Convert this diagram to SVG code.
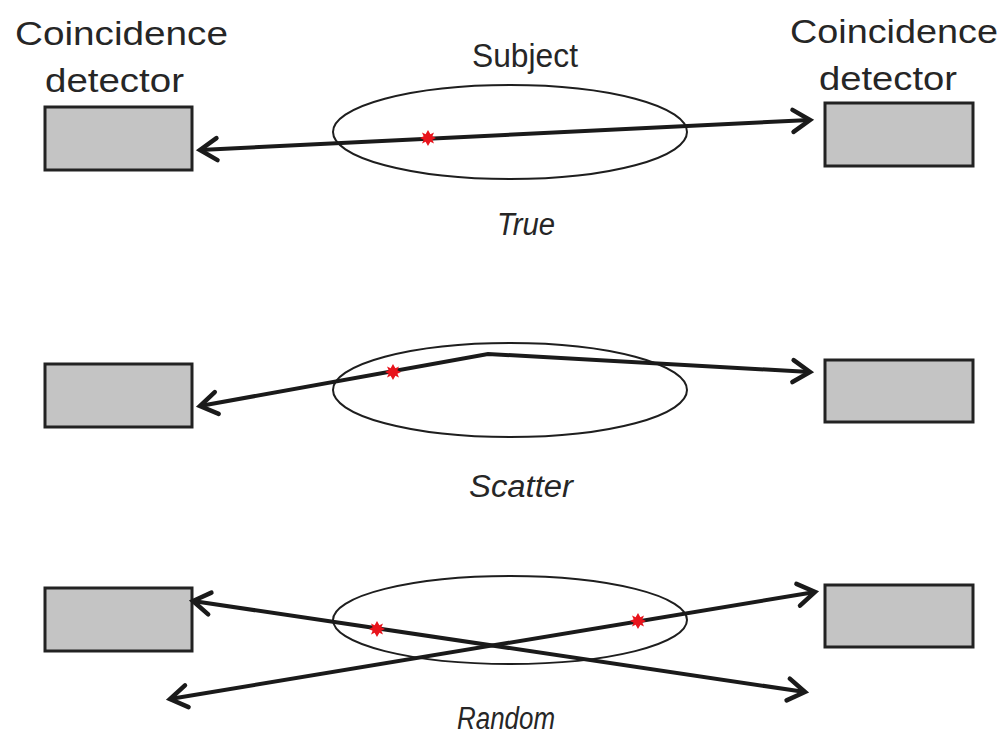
<svg xmlns="http://www.w3.org/2000/svg" width="1002" height="734" viewBox="0 0 1002 734">
<style>
.lbl{font-family:"Liberation Sans",Arial,sans-serif;font-size:34px;fill:#262626}
.cap{font-family:"Liberation Sans",Arial,sans-serif;font-size:31px;font-style:italic;fill:#262626}
.box{fill:#c4c4c4;stroke:#222;stroke-width:3}
.subj{fill:none;stroke:#1e1e1e;stroke-width:2}
.ray{fill:none;stroke:#1a1a1a;stroke-width:4;marker-start:url(#arr);marker-end:url(#arr)}
.hit{fill:#e8141c}
</style>
<defs>
<marker id="arr" viewBox="-24 -16 30 32" refX="0" refY="0" markerWidth="30" markerHeight="32" markerUnits="userSpaceOnUse" orient="auto-start-reverse">
<path d="M-17,-11 L0,0 L-17,11" fill="none" stroke="#1a1a1a" stroke-width="4.5" stroke-linecap="round"/>
</marker>
<path id="star" d="M0,-8 L2.4,-3.8 L6,-5.6 L4.4,-1.7 L8,0 L4.4,1.7 L6,5.6 L2.4,3.8 L0,8 L-2.4,3.8 L-6,5.6 L-4.4,1.7 L-8,0 L-4.4,-1.7 L-6,-5.6 L-2.4,-3.8 Z"/>
</defs>

<g id="labels">
<text class="lbl" x="15" y="45" textLength="213" lengthAdjust="spacingAndGlyphs">Coincidence</text>
<text class="lbl" x="45" y="92" textLength="139" lengthAdjust="spacingAndGlyphs">detector</text>
<text class="lbl" x="790" y="43" textLength="208" lengthAdjust="spacingAndGlyphs">Coincidence</text>
<text class="lbl" x="819" y="90" textLength="138" lengthAdjust="spacingAndGlyphs">detector</text>
<text class="lbl" x="472" y="67" textLength="106" lengthAdjust="spacingAndGlyphs">Subject</text>
<text class="cap" x="497" y="235" textLength="58" lengthAdjust="spacingAndGlyphs">True</text>
<text class="cap" x="469" y="497" textLength="104" lengthAdjust="spacingAndGlyphs">Scatter</text>
<text class="cap" x="457" y="729" font-size="35" textLength="98" lengthAdjust="spacingAndGlyphs">Random</text>
</g>

<g id="true-event">
<g id="det-l1"><rect class="box" x="45" y="107" width="147" height="63"/></g>
<g id="det-r1"><rect class="box" x="825" y="103" width="148" height="63"/></g>
<g id="subject1"><ellipse class="subj" cx="510" cy="132" rx="177" ry="47"/></g>
</g>

<g id="scatter-event">
<g id="det-l2"><rect class="box" x="45" y="364" width="147" height="63"/></g>
<g id="det-r2"><rect class="box" x="825" y="360" width="148" height="62"/></g>
<g id="subject2"><ellipse class="subj" cx="510" cy="390" rx="177" ry="47"/></g>
</g>

<g id="random-event">
<g id="det-l3"><rect class="box" x="45" y="588" width="147" height="63"/></g>
<g id="det-r3"><rect class="box" x="825" y="585" width="148" height="62"/></g>
<g id="subject3"><ellipse class="subj" cx="510" cy="620" rx="177" ry="44"/></g>
</g>

<g id="connectors">
<line class="ray" x1="200" y1="150" x2="810" y2="120"/>
<polyline class="ray" points="200,406 488,354 810,372"/>
<line class="ray" x1="193" y1="601" x2="805" y2="692"/>
<line class="ray" x1="170" y1="699" x2="815" y2="592"/>
</g>

<g id="annihilation-points">
<use href="#star" class="hit" x="428" y="138"/>
<use href="#star" class="hit" x="393" y="372"/>
<use href="#star" class="hit" x="377" y="629"/>
<use href="#star" class="hit" x="638" y="621"/>
</g>
</svg>
